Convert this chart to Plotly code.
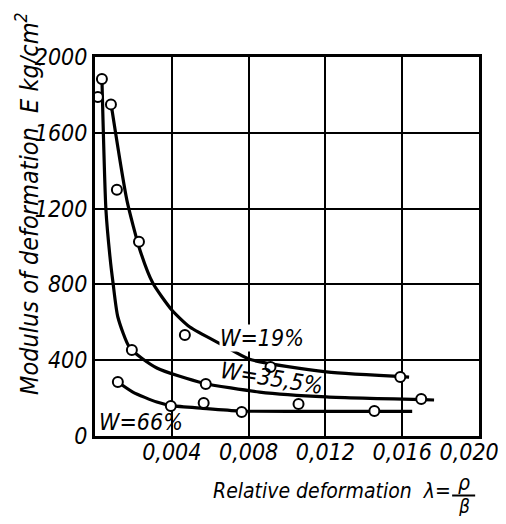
import plotly.graph_objects as go

# ---- data ----
x_tick_vals = [0.004, 0.008, 0.012, 0.016, 0.020]
x_tick_text = ["0,004", "0,008", "0,012", "0,016", "0,020\u00a0\u00a0\u00a0"]
y_tick_vals = [0, 400, 800, 1200, 1600, 2000]
y_tick_text = ["0", "400", "800", "1200", "1600", "2000"]

# W = 19 %
w19_pts_x = [0.00083, 0.00114, 0.00229, 0.00468, 0.00914, 0.0159]
w19_pts_y = [1750, 1300, 1025, 533, 364, 311]
w19_line_x = [0.00083, 0.00166, 0.00234, 0.00301, 0.0040, 0.00494, 0.00665, 0.00805, 0.01205, 0.01636]
w19_line_y = [1757, 1245, 982, 807, 665, 575, 480, 405, 338, 311]

# W = 35.5 %
w35_pts_x = [0.00036, 0.00192, 0.00577, 0.01699]
w35_pts_y = [1884, 454, 274, 195]
w35_line_x = [0.00036, 0.00057, 0.00078, 0.00094, 0.00119, 0.00182, 0.00322, 0.00561, 0.00857, 0.01205, 0.01766]
w35_line_y = [1889, 1193, 945, 807, 628, 464, 359, 280, 232, 206, 190]

# W = 66 %
w66_pts_x = [0.00015, 0.00119, 0.00395, 0.00566, 0.00764, 0.0106, 0.01455]
w66_pts_y = [1789, 285, 158, 174, 127, 169, 132]
w66_line_x = [0.00119, 0.00197, 0.00322, 0.0040, 0.00561, 0.00753, 0.01205, 0.01652]
w66_line_y = [285, 232, 179, 160, 146, 132, 130, 130]

labels = ["W=19%", "W=35,5%", "W=66%"]

FONT = "DejaVu Sans Condensed, DejaVu Sans"

fig = go.Figure()
for lx, ly in [(w19_line_x, w19_line_y), (w35_line_x, w35_line_y), (w66_line_x, w66_line_y)]:
    fig.add_trace(go.Scatter(x=lx, y=ly, mode="lines",
                             line=dict(color="black", width=3.2, shape="spline", smoothing=0.6),
                             hoverinfo="skip", showlegend=False))
for px, py in [(w19_pts_x, w19_pts_y), (w35_pts_x, w35_pts_y), (w66_pts_x, w66_pts_y)]:
    fig.add_trace(go.Scatter(x=px, y=py, mode="markers",
                             marker=dict(symbol="circle", size=10, color="white",
                                         line=dict(color="black", width=2)),
                             showlegend=False))

ann_font = dict(family=FONT, size=23, color="black", style="italic")
fig.add_annotation(x=0.0087, y=517, xref="x", yref="y", text=labels[0], showarrow=False,
                   xanchor="center", yanchor="middle",
                   font=ann_font, bgcolor="white", borderpad=0)
fig.add_annotation(x=0.0092, y=306, xref="x", yref="y", text=labels[1], showarrow=False,
                   xanchor="center", yanchor="middle",
                   font=ann_font, textangle=9)
fig.add_annotation(x=0.0024, y=74, xref="x", yref="y", text=labels[2], showarrow=False,
                   xanchor="center", yanchor="middle",
                   font=ann_font)

# axis titles
fig.add_annotation(x=-0.1745, y=0.615, xref="paper", yref="paper",
                   xanchor="center", yanchor="middle",
                   text="Modulus of deformation  E kg/cm<sup>2</sup>", showarrow=False,
                   textangle=-90, font=dict(family=FONT, size=25, color="black", style="italic"))
fig.add_annotation(x=0.618, y=-0.145, xref="paper", yref="paper",
                   xanchor="center", yanchor="middle",
                   text="Relative deformation  λ=", showarrow=False,
                   font=dict(family=FONT, size=21, color="black", style="italic"))
fig.add_annotation(x=0.960, y=-0.124, xref="paper", yref="paper", text="ρ", showarrow=False,
                   xanchor="center", yanchor="middle",
                   font=dict(family=FONT, size=21, color="black", style="italic"))
fig.add_annotation(x=0.960, y=-0.186, xref="paper", yref="paper", text="β", showarrow=False,
                   xanchor="center", yanchor="middle",
                   font=dict(family=FONT, size=19, color="black", style="italic"))
fig.add_shape(type="line", xref="paper", yref="paper", x0=0.930, x1=0.990, y0=-0.157, y1=-0.157,
              line=dict(color="black", width=2))

tick_font = dict(family=FONT, size=23, color="black", style="italic")
fig.update_xaxes(range=[0, 0.020], tickvals=x_tick_vals, ticktext=x_tick_text,
                 showgrid=True, gridcolor="black", gridwidth=2, zeroline=False,
                 showline=True, linecolor="black", linewidth=3, mirror=True,
                 ticks="", tickfont=tick_font, ticklabeloverflow="allow",
                 ticklabelstandoff=-7, automargin=False)
fig.update_yaxes(range=[0, 2000], tickvals=y_tick_vals, ticktext=y_tick_text,
                 showgrid=True, gridcolor="black", gridwidth=2, zeroline=False,
                 showline=True, linecolor="black", linewidth=3, mirror=True,
                 ticks="", tickfont=tick_font, ticklabeloverflow="allow", automargin=False)
# the page body has an 8px margin, so the figure is offset by (8, 8);
# keep the page inside the 506x524 window
fig.update_layout(width=490, height=508, margin=dict(l=87, r=19, t=49, b=80),
                  plot_bgcolor="white", paper_bgcolor="white", showlegend=False)
fig.write_html("out.html")
